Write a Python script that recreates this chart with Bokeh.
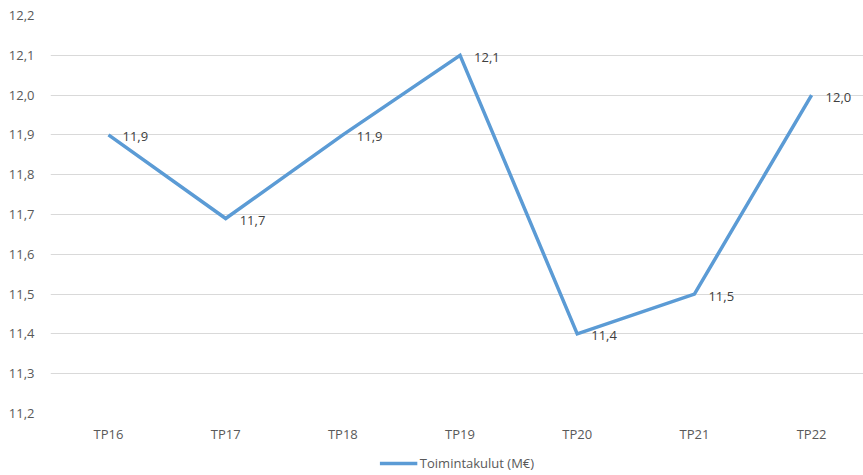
from bokeh.plotting import figure
from bokeh.layouts import column
from bokeh.models import (ColumnDataSource, FixedTicker, Range1d, Legend, LegendItem,
                          CustomJSTickFormatter)
from bokeh.core.properties import value
from bokeh.embed import file_html
from bokeh.resources import INLINE

# Operating costs per financial period (M€)
periods = ["TP16", "TP17", "TP18", "TP19", "TP20", "TP21", "TP22"]
costs = [11.90, 11.69, 11.90, 12.10, 11.40, 11.50, 12.00]
y_ticks = [11.2, 11.3, 11.4, 11.5, 11.6, 11.7, 11.8, 11.9, 12.0, 12.1, 12.2]
series_name = "Toimintakulut (M€)"

FONT = "Open Sans"
TEXT_COLOR = "#595959"
LINE_COLOR = "#5B9BD5"
LINE_WIDTH = 3.5

xs = list(range(len(periods)))
labels = [f"{v:.1f}".replace(".", ",") for v in costs]
src = ColumnDataSource(dict(x=xs, y=costs, label=labels))

p = figure(width=863, height=451, output_backend="svg", toolbar_location=None,
           x_range=Range1d(-0.495, 6.443), y_range=Range1d(11.2, 12.2),
           min_border_left=50, min_border_right=0, min_border_top=15,
           min_border_bottom=38)
p.outline_line_color = None
p.background_fill_color = "white"
p.border_fill_color = "white"

p.line("x", "y", source=src, line_color=LINE_COLOR, line_width=LINE_WIDTH,
       line_join="miter")

p.text("x", "y", text="label", source=src, x_offset=14, y_offset=2,
       text_font=value(FONT), text_font_size="13px", text_color="#404040",
       text_baseline="middle", text_align="left")

# x axis: category names, no line or ticks
p.xaxis.ticker = FixedTicker(ticks=xs)
p.xaxis.major_label_overrides = {i: n for i, n in enumerate(periods)}
p.xaxis.axis_line_color = None
p.xaxis.major_tick_line_color = None
p.xaxis.minor_tick_line_color = None
p.xaxis.major_tick_out = 0
p.xaxis.major_label_standoff = 11
p.xaxis.major_label_text_font = FONT
p.xaxis.major_label_text_font_size = "13px"
p.xaxis.major_label_text_color = TEXT_COLOR
p.xgrid.grid_line_color = None

# y axis: comma decimal labels
p.yaxis.ticker = FixedTicker(ticks=y_ticks)
p.yaxis.formatter = CustomJSTickFormatter(
    code="return tick.toFixed(1).replace('.', ',');")
p.yaxis.axis_line_color = None
p.yaxis.major_tick_line_color = None
p.yaxis.minor_tick_line_color = None
p.yaxis.major_label_standoff = 10
p.yaxis.major_label_text_font = FONT
p.yaxis.major_label_text_font_size = "13px"
p.yaxis.major_label_text_color = TEXT_COLOR
p.ygrid.grid_line_color = "#d9d9d9"
p.ygrid.grid_line_width = 1

# legend strip under the chart; the swatch line lies outside the strip's view
key = figure(width=863, height=24, output_backend="svg", toolbar_location=None,
             x_range=Range1d(0, 1), y_range=Range1d(0, 1),
             min_border=0, x_axis_type=None, y_axis_type=None)
key.outline_line_color = None
key.grid.grid_line_color = None
key_line = key.line(x=[-2, -1], y=[-2, -1], line_color=LINE_COLOR,
                    line_width=LINE_WIDTH)
legend = Legend(items=[LegendItem(label=series_name, renderers=[key_line])],
                orientation="horizontal", location="center",
                label_text_font=FONT, label_text_font_size="13px",
                label_text_color=TEXT_COLOR, glyph_width=38, glyph_height=12,
                label_height=16, label_standoff=3, border_line_color=None,
                padding=0, margin=0, background_fill_alpha=0)
key.add_layout(legend, "center")

open("out.html", "w").write(file_html(column(p, key, spacing=0), INLINE))
